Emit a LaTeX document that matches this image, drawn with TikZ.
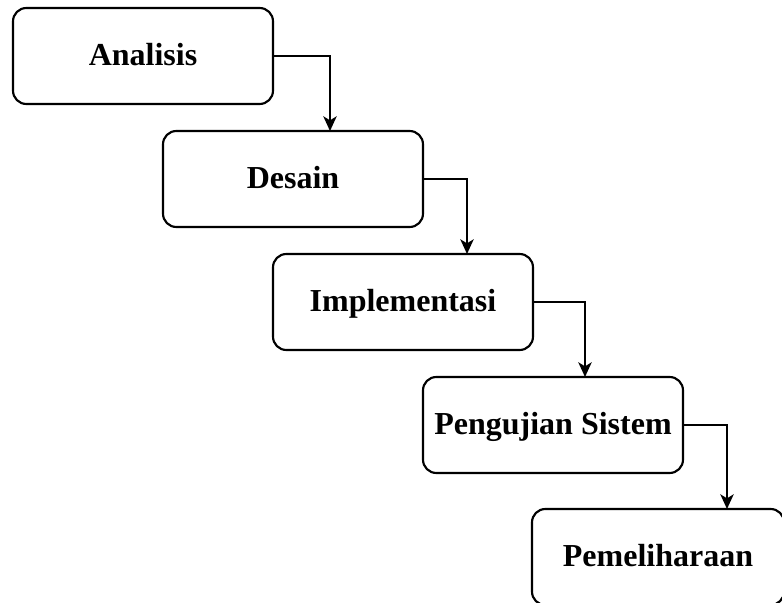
\documentclass[tikz,border=0pt]{standalone}
\usepackage{fontspec}
\setmainfont{Liberation Serif}
\usetikzlibrary{arrows.meta}
\begin{document}
\begin{tikzpicture}[x=0.75pt,y=-0.75pt,
  stagebox/.style={draw, line width=1.6pt, rounded corners=10pt, minimum width=195pt, minimum height=72pt, inner sep=0pt, text depth=2pt, font=\bfseries\fontsize{24}{28}\selectfont},
  flow/.style={draw, line width=1.5pt, -{Stealth[length=11pt,width=10pt,inset=3pt]}}]
\useasboundingbox (0,0) rectangle (782,603);
\clip (0,0) rectangle (782,603);
\node[stagebox] (A) at (143,56) {Analisis};
\node[stagebox] (D) at (293,179) {Desain};
\node[stagebox] (I) at (403,302) {Implementasi};
\node[stagebox] (P) at (553,425) {Pengujian Sistem};
\node[stagebox, minimum width=189pt, text width=189pt, align=center] (M) at (658,557) {Pemeliharaan};
\coordinate (c1) at (330,131);
\coordinate (c2) at (467,254);
\coordinate (c3) at (585,377);
\coordinate (c4) at (727,509);
\draw[flow] (A.east) -| (c1);
\draw[flow] (D.east) -| (c2);
\draw[flow] (I.east) -| (c3);
\draw[flow] (P.east) -| (c4);
\end{tikzpicture}
\end{document}
